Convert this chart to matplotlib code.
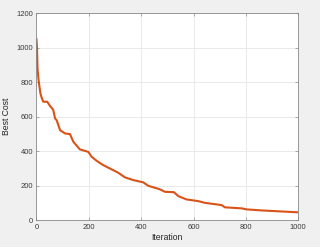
import matplotlib
matplotlib.use("Agg")
import matplotlib.pyplot as plt

iterations = [0, 2, 4, 8, 15, 20, 26, 41, 52, 60, 64, 71, 77, 90, 109, 128, 141, 166, 198, 211, 230, 255,
              293, 312, 338, 370, 408, 427, 469, 491, 525, 542, 573, 618, 644, 707, 720, 784, 803, 860, 1000]
best_cost = [1049, 1000, 880, 812, 735, 710, 687, 687, 662, 648, 640, 590, 580, 522, 503, 499, 454, 410, 396,
             367, 344, 319, 290, 275, 248, 232, 219, 199, 180, 164, 162, 139, 120, 110, 100, 87, 74, 68, 62, 56, 45]
xticks = [0, 200, 400, 600, 800, 1000]
yticks = [0, 200, 400, 600, 800, 1000, 1200]

plt.rcParams['font.family'] = ['Liberation Sans', 'DejaVu Sans']
fig = plt.figure(figsize=(3.2, 2.47), dpi=100, facecolor='#f0f0f0')
ax = fig.add_axes([0.114, 0.109, 0.818, 0.837])
ax.set_facecolor('white')
ax.plot(iterations, best_cost, color='#D95319', linewidth=1.5)
ax.set_xlim(0, 1000)
ax.set_ylim(0, 1200)
ax.set_xticks(xticks)
ax.set_yticks(yticks)
ax.grid(True, color='#e6e6e6', linewidth=0.6)
ax.set_axisbelow(True)
ax.tick_params(direction='in', length=2.5, width=0.5, labelsize=5.5, colors='#8a8a8a',
               labelcolor='#3a3a3a', top=True, right=True, pad=2.5)
for s in ax.spines.values():
    s.set_color('#8a8a8a')
    s.set_linewidth(0.6)
ax.set_xlabel('Iteration', fontsize=6.2, color='#262626', labelpad=1.5)
ax.set_ylabel('Best Cost', fontsize=6.2, color='#262626', labelpad=4)
fig.savefig('out.png', dpi=100, facecolor=fig.get_facecolor())
